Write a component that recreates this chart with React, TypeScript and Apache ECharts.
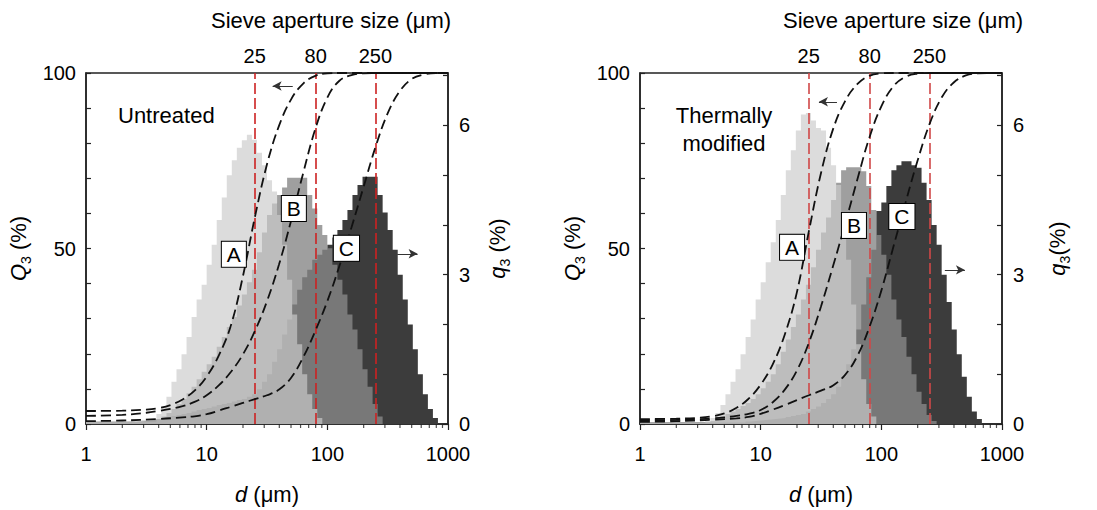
import React, { useEffect, useRef } from "react";
import * as echarts from "echarts";

const FONT = "Liberation Sans, Arial, Helvetica, sans-serif";
const BINS_PER_DECADE = 24;

// x-axis decade tick labels and sieve apertures (µm)
const xTickLabels = [1, 10, 100, 1000];
const sieveSizes = [25, 80, 250];
const minorTickValues = [2, 3, 4, 5, 6, 7, 8, 9, 20, 30, 40, 50, 60, 70, 80, 90, 200, 300, 400, 500, 600, 700, 800, 900];

// ---------- Untreated: q3 histograms (% per bin), bins start at 1 µm ----------
const untreatedA = [
  0.04, 0.04, 0.04, 0.04, 0.04, 0.04, 0.04, 0.04, 0.05, 0.05, 0.06, 0.08, 0.09, 0.1, 0.2, 0.35,
  0.55, 0.85, 1.1, 1.4, 1.75, 2.15, 2.5, 2.8, 3.2, 3.6, 4.1, 4.55, 5.0, 5.3, 5.55, 5.7,
  5.81, 5.71, 5.45, 5.2, 4.9, 4.67, 4.2, 3.6, 2.9, 2.2, 1.6, 1.0, 0.6, 0.3, 0.12,
];
const untreatedB = [
  0.05, 0.05, 0.05, 0.05, 0.05, 0.05, 0.05, 0.05, 0.05, 0.05, 0.05, 0.05, 0.05, 0.05, 0.1, 0.15,
  0.22, 0.3, 0.4, 0.5, 0.62, 0.75, 0.9, 1.05, 1.2, 1.35, 1.55, 1.75, 1.95, 2.15, 2.38, 2.6,
  2.85, 3.1, 3.45, 3.85, 4.2, 4.43, 4.6, 4.75, 4.95, 4.95, 4.95, 4.95, 4.6, 4.33, 4.0, 3.8,
  3.53, 3.2, 2.9, 2.6, 2.2, 1.9, 1.5, 1.1, 0.75, 0.4, 0.15,
];
const untreatedC = [
  0.04, 0.04, 0.04, 0.04, 0.04, 0.04, 0.04, 0.04, 0.04, 0.04, 0.05, 0.06, 0.07, 0.08, 0.1, 0.12,
  0.14, 0.16, 0.18, 0.2, 0.22, 0.25, 0.28, 0.3, 0.32, 0.35, 0.38, 0.4, 0.42, 0.45, 0.48, 0.5,
  0.55, 0.6, 0.7, 0.85, 1.0, 1.25, 1.5, 1.8, 2.1, 2.4, 2.7, 2.95, 3.1, 3.3, 3.4, 3.5,
  3.6, 3.75, 3.9, 4.1, 4.3, 4.6, 4.8, 4.97, 4.97, 4.97, 4.6, 4.25, 3.9, 3.5, 3.0, 2.5,
  2.0, 1.5, 1.0, 0.6, 0.3, 0.12,
];

// ---------- Thermally modified: q3 histograms ----------
const modifiedA = [
  0.03, 0.03, 0.03, 0.03, 0.03, 0.03, 0.03, 0.03, 0.03, 0.03, 0.03, 0.03, 0.03, 0.06, 0.12, 0.22,
  0.38, 0.6, 0.85, 1.1, 1.4, 1.75, 2.1, 2.5, 2.85, 3.25, 3.65, 4.1, 4.6, 5.1, 5.5, 5.9,
  6.22, 6.25, 6.1, 5.95, 5.9, 5.55, 5.2, 4.8, 4.1, 3.3, 2.4, 1.6, 0.9, 0.4, 0.15,
];
const modifiedB = [
  0.03, 0.03, 0.03, 0.03, 0.03, 0.03, 0.03, 0.03, 0.03, 0.03, 0.03, 0.03, 0.03, 0.03, 0.06, 0.1,
  0.15, 0.2, 0.25, 0.3, 0.36, 0.42, 0.5, 0.6, 0.72, 0.85, 1.0, 1.2, 1.45, 1.7, 1.95, 2.2,
  2.5, 2.8, 3.15, 3.5, 3.85, 4.15, 4.5, 4.85, 5.1, 5.16, 5.16, 5.16, 5.08, 4.78, 4.3, 3.8,
  3.4, 3.0, 2.5, 2.1, 1.75, 1.35, 1.0, 0.65, 0.4, 0.18, 0.06,
];
const modifiedC = [
  0.03, 0.03, 0.03, 0.03, 0.03, 0.03, 0.03, 0.03, 0.03, 0.03, 0.03, 0.03, 0.03, 0.03, 0.03, 0.03,
  0.03, 0.03, 0.03, 0.03, 0.03, 0.05, 0.06, 0.07, 0.08, 0.09, 0.1, 0.11, 0.12, 0.14, 0.16, 0.18,
  0.2, 0.25, 0.3, 0.35, 0.42, 0.5, 0.6, 0.75, 0.95, 1.2, 1.5, 1.9, 2.4, 2.95, 3.5, 4.28,
  4.45, 4.78, 5.1, 5.2, 5.28, 5.28, 5.2, 5.15, 4.85, 4.5, 4.0, 3.6, 3.0, 2.45, 1.9, 1.4,
  0.95, 0.55, 0.25, 0.1,
];

// ---------- Cumulative Q3 curves [d (µm), Q3 %] ----------
const untreatedQA = [
  [1, 3.7], [2, 3.8], [3.16, 4.1], [3.98, 4.5], [5.01, 5.4], [6.31, 7.0], [7.94, 9.5], [10, 13.5],
  [12.59, 19.5], [15.85, 28], [19.95, 42], [25.12, 59], [31.62, 74], [39.81, 85], [50.12, 92.5],
  [63.1, 97], [79.43, 99.2], [100, 99.9], [125.9, 100], [1000, 100],
];
const untreatedQB = [
  [1, 2.3], [2, 2.6], [3.16, 3.2], [3.98, 3.7], [5.01, 4.3], [6.31, 5.1], [7.94, 6.3], [10, 8.2],
  [12.59, 11], [15.85, 14.8], [19.95, 19.8], [25.12, 26.5], [31.62, 35], [39.81, 45.5], [50.12, 58],
  [63.1, 71.5], [79.43, 84], [100, 93], [125.9, 97.8], [158.5, 99.4], [199.5, 99.9], [251.2, 100],
  [1000, 100],
];
const untreatedQC = [
  [1, 0.8], [2, 1.0], [3.98, 1.4], [6.31, 1.9], [7.94, 2.2], [10, 2.8], [12.59, 3.8], [15.85, 4.9],
  [19.95, 6.0], [25.12, 7.1], [31.62, 8.2], [39.81, 9.8], [50.12, 13.2], [63.1, 19], [79.43, 26.5],
  [100, 35], [125.9, 45], [158.5, 56], [199.5, 67.5], [251.2, 79], [316.2, 88.5], [398.1, 94.8],
  [501.2, 98.3], [631, 99.6], [794.3, 100], [1000, 100],
];
const modifiedQA = [
  [1, 1.4], [2, 1.5], [3.16, 1.8], [3.98, 2.2], [5.01, 3.0], [6.31, 4.6], [7.94, 7.2], [10, 11.2],
  [12.59, 17], [15.85, 25.5], [19.95, 37.5], [25.12, 55], [31.62, 71.5], [39.81, 84], [50.12, 92],
  [63.1, 96.8], [79.43, 99.2], [100, 99.9], [125.9, 100], [1000, 100],
];
const modifiedQB = [
  [1, 1.0], [2, 1.15], [3.16, 1.4], [3.98, 1.6], [5.01, 1.9], [6.31, 2.3], [7.94, 2.9], [10, 4.0],
  [12.59, 6.2], [15.85, 9.8], [19.95, 15.2], [25.12, 23.2], [31.62, 33.5], [39.81, 45], [50.12, 57],
  [63.1, 69.5], [79.43, 81.5], [100, 90.5], [125.9, 96.2], [158.5, 98.9], [199.5, 99.8], [251.2, 100],
  [1000, 100],
];
const modifiedQC = [
  [1, 0.6], [2, 0.8], [3.98, 1.2], [6.31, 1.6], [7.94, 2.0], [10, 2.9], [12.59, 4.1], [15.85, 5.4],
  [19.95, 6.8], [25.12, 8.2], [31.62, 9.5], [39.81, 11.0], [50.12, 14.0], [63.1, 19.3], [79.43, 27.5],
  [100, 38], [125.9, 50.5], [158.5, 63], [199.5, 75], [251.2, 85.5], [316.2, 93], [398.1, 97.3],
  [501.2, 99.3], [631, 99.9], [794.3, 100], [1000, 100],
];

// label positions [d, q3] and arrow ends [d, Q3]
const untreatedLabels = [["A", 16.8, 3.41], ["B", 52.8, 4.33], ["C", 144, 3.53]];
const modifiedLabels = [["A", 18.2, 3.55], ["B", 59.3, 3.99], ["C", 148, 4.17]];
const untreatedArrows = [[[51.7, 96.3], [35.2, 96.3]], [[380, 48.5], [560, 48.5]]];
const modifiedArrows = [[[42.9, 91.8], [30.4, 91.8]], [[336, 43.9], [493, 43.9]]];

const histData = (values: number[]) => {
  const pts = values.map((v, i) => [Math.pow(10, i / BINS_PER_DECADE), v]);
  pts.push([Math.pow(10, values.length / BINS_PER_DECADE), 0]);
  return pts;
};

const COLORS = {
  A: { color: "#cccccc", opacity: 0.68 },
  B: { color: "#878787", opacity: 0.8 },
  C: { color: "#3c3c3c", opacity: 1 },
};

const axisLineStyle = { color: "#222", width: 1.5 };

function panelSeries(p: number, hist: any, cum: any, labels: any[], arrows: any[], redColor: string) {
  const xi = p;
  const yQ = 2 * p;
  const yq = 2 * p + 1;
  const area = (key: "A" | "B" | "C", values: number[]) => {
    const lab = labels.find((l) => l[0] === key);
    return {
      type: "line",
      xAxisIndex: xi,
      yAxisIndex: yq,
      data: histData(values),
      step: "end",
      symbol: "none",
      lineStyle: { width: 0 },
      areaStyle: { color: COLORS[key].color, opacity: COLORS[key].opacity },
      silent: true,
      z: 2,
      markPoint: {
        symbol: "rect",
        symbolSize: 1,
        itemStyle: { color: "rgba(0,0,0,0)" },
        label: {
          show: true,
          position: "inside",
          formatter: key,
          color: "#000",
          fontSize: 21,
          fontFamily: FONT,
          backgroundColor: "#fff",
          borderColor: "#000",
          borderWidth: 1,
          padding: [3, 5, 1, 5],
        },
        data: [{ coord: [lab[1], lab[2]] }],
        z: 10,
      },
    };
  };
  const cumLine = (data: number[][], extra: any = {}) => ({
    type: "line",
    xAxisIndex: xi,
    yAxisIndex: yQ,
    data,
    smooth: 0.4,
    symbol: "none",
    lineStyle: { color: "#111", width: 1.8, type: [10, 5] },
    silent: true,
    z: 5,
    ...extra,
  });
  return [
    area("C", hist.C),
    area("B", hist.B),
    area("A", hist.A),
    cumLine(cum.A, {
      markLine: {
        silent: true,
        symbol: ["none", "arrow"],
        symbolSize: [7, 9],
        label: { show: false },
        lineStyle: { color: "#333", width: 1, type: "solid" },
        data: arrows.map((a) => [{ coord: a[0] }, { coord: a[1] }]),
      },
    }),
    cumLine(cum.B),
    cumLine(cum.C, {
      markLine: {
        silent: true,
        symbol: ["none", "none"],
        lineStyle: { color: redColor, width: 1.6, type: [11, 4] },
        label: {
          show: true,
          position: "end",
          distance: 7,
          formatter: (d: any) => String(d.value),
          color: "#000",
          fontSize: 20,
          fontFamily: FONT,
        },
        data: sieveSizes.map((s) => ({ xAxis: s })),
        z: 4,
      },
    }),
    {
      type: "scatter",
      xAxisIndex: xi,
      yAxisIndex: yQ,
      data: minorTickValues.map((v) => [v, 0]),
      symbol: "rect",
      symbolSize: [1.2, 4],
      symbolOffset: [0, 2],
      itemStyle: { color: "#222" },
      silent: true,
      clip: false,
      z: 6,
    },
  ];
}

const richName = {
  i: { fontStyle: "italic", fontSize: 22, fontFamily: FONT, color: "#000" },
  s: { fontSize: 14, fontFamily: FONT, color: "#000", verticalAlign: "bottom", lineHeight: 30 },
};

function xAxisDef(grid: number) {
  return {
    gridIndex: grid,
    type: "log",
    logBase: 10,
    min: 1,
    max: 1000,
    name: "{i|d} (μm)",
    nameLocation: "middle",
    nameGap: 59,
    nameTextStyle: { fontSize: 22, fontFamily: FONT, color: "#000", rich: richName },
    axisLine: { show: true, lineStyle: axisLineStyle },
    axisTick: { show: true, inside: false, length: 6, lineStyle: { color: "#222", width: 1.2 } },
    axisLabel: {
      fontSize: 20,
      fontFamily: FONT,
      color: "#000",
      margin: 20,
      formatter: (v: number) => (xTickLabels.indexOf(Math.round(v)) >= 0 ? String(Math.round(v)) : ""),
    },
    splitLine: { show: false },
    minorTick: { show: false },
  };
}

function yLeftDef(grid: number) {
  return {
    gridIndex: grid,
    type: "value",
    min: 0,
    max: 100,
    interval: 10,
    position: "left",
    name: "{i|Q}{s|3} (%)",
    nameLocation: "middle",
    nameRotate: 90,
    nameGap: 53,
    nameTextStyle: { fontSize: 22, fontFamily: FONT, color: "#000", rich: richName },
    axisLine: { show: true, lineStyle: axisLineStyle },
    axisTick: { show: true, inside: true, length: 5, lineStyle: { color: "#222", width: 1.2 } },
    axisLabel: {
      fontSize: 20,
      fontFamily: FONT,
      color: "#000",
      margin: 10,
      formatter: (v: number) => (v % 50 === 0 ? String(v) : ""),
    },
    splitLine: { show: false },
  };
}

function yRightDef(grid: number, name: string, gap: number) {
  return {
    gridIndex: grid,
    type: "value",
    min: 0,
    max: 7.053,
    interval: 1,
    position: "right",
    name,
    nameLocation: "middle",
    nameRotate: 90,
    nameGap: gap,
    nameTextStyle: { fontSize: 22, fontFamily: FONT, color: "#000", rich: richName },
    axisLine: { show: true, lineStyle: axisLineStyle },
    axisTick: { show: true, inside: true, length: 5, lineStyle: { color: "#222", width: 1.2 } },
    axisLabel: {
      fontSize: 20,
      fontFamily: FONT,
      color: "#000",
      margin: 11,
      formatter: (v: number) => (v === 0 || v === 3 || v === 6 ? String(v) : ""),
    },
    splitLine: { show: false },
  };
}

export default function App() {
  const ref = useRef<HTMLDivElement>(null);
  useEffect(() => {
    if (!ref.current) return;
    const chart = echarts.init(ref.current, undefined, { renderer: "svg" });
    const option: any = {
      animation: false,
      backgroundColor: "#fff",
      textStyle: { fontFamily: FONT },
      grid: [
        { left: 86, top: 73, width: 362, height: 355, show: true, borderColor: "#222", borderWidth: 1.5, backgroundColor: "transparent" },
        { left: 640, top: 73, width: 362, height: 355, show: true, borderColor: "#222", borderWidth: 1.5, backgroundColor: "transparent" },
      ],
      xAxis: [xAxisDef(0), xAxisDef(1)],
      yAxis: [
        yLeftDef(0),
        yRightDef(0, "{i|q}{s|3} (%)", 34),
        yLeftDef(1),
        yRightDef(1, "{i|q}{s|3}(%)", 40),
      ],
      graphic: [
        { type: "text", x: 331, y: 20, style: { text: "Sieve aperture size (μm)", fontSize: 22, fontFamily: FONT, fill: "#000", align: "center", verticalAlign: "middle" } },
        { type: "text", x: 903, y: 20, style: { text: "Sieve aperture size (μm)", fontSize: 22, fontFamily: FONT, fill: "#000", align: "center", verticalAlign: "middle" } },
        { type: "text", x: 118, y: 115, z: 20, style: { text: "Untreated", fontSize: 22, fontFamily: FONT, fill: "#000", align: "left", verticalAlign: "middle" } },
        { type: "text", x: 724, y: 129, z: 20, style: { text: "Thermally\nmodified", fontSize: 22, lineHeight: 28, fontFamily: FONT, fill: "#000", align: "center", verticalAlign: "middle" } },
      ],
      series: [
        ...panelSeries(0, { A: untreatedA, B: untreatedB, C: untreatedC }, { A: untreatedQA, B: untreatedQB, C: untreatedQC }, untreatedLabels, untreatedArrows, "#cc2222"),
        ...panelSeries(1, { A: modifiedA, B: modifiedB, C: modifiedC }, { A: modifiedQA, B: modifiedQB, C: modifiedQC }, modifiedLabels, modifiedArrows, "#d04848"),
      ],
    };
    chart.setOption(option);
    return () => chart.dispose();
  }, []);
  return (
    <div
      ref={ref}
      style={{ position: "absolute", left: 0, top: 0, width: 1097, height: 510, background: "#fff" }}
    />
  );
}
